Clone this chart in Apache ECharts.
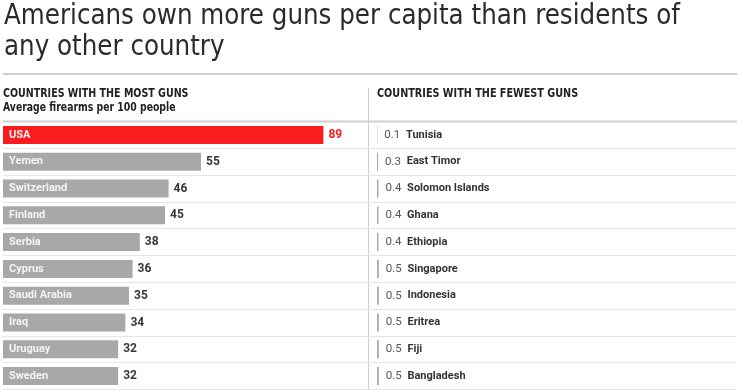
<!DOCTYPE html>
<html>
<head>
<meta charset="utf-8">
<script src="https://cdn.jsdelivr.net/npm/echarts@6/dist/echarts.min.js"></script>
<style>
html,body{margin:0;padding:0;background:#fff;}
#c{width:740px;height:390px;}
</style>
</head>
<body>
<div id="c"></div>
<script>
// ---- data ----
var mostCountries = ['USA','Yemen','Switzerland','Finland','Serbia','Cyprus','Saudi Arabia','Iraq','Uruguay','Sweden'];
var mostValues = [89,55,46,45,38,36,35,34,32,32];
var fewestCountries = ['Tunisia','East Timor','Solomon Islands','Ghana','Ethiopia','Singapore','Indonesia','Eritrea','Fiji','Bangladesh'];
var fewestValues = [0.1,0.3,0.4,0.4,0.4,0.5,0.5,0.5,0.5,0.5];
var titleText = 'Americans own more guns per capita than residents of\nany other country';
var leftHeader = 'COUNTRIES WITH THE MOST GUNS';
var leftSub = 'Average firearms per 100 people';
var rightHeader = 'COUNTRIES WITH THE FEWEST GUNS';

var FONT = "'DejaVu Sans Condensed',sans-serif";
var LFONT = "Roboto,sans-serif";
var RED = '#fa1c1e', GRAY = '#a8a8a8';

var chart = echarts.init(document.getElementById('c'), null, {renderer:'canvas'});

var mostData = mostValues.map(function(v,i){
  return {value:v, name:mostCountries[i], itemStyle:{color: i===0?RED:GRAY},
          label:{color: i===0?RED:'#383838'}};
});

var option = {
  animation:false,
  backgroundColor:'#fff',
  grid:[
    {left:3, width:734, top:121.5, height:268, containLabel:false},
    {left:377, width:360, top:121.5, height:268, containLabel:false}
  ],
  xAxis:[
    {gridIndex:0, type:'value', min:0, max:734/3.6, show:false},
    {gridIndex:1, type:'value', min:0, max:100, show:false}
  ],
  yAxis:[
    {gridIndex:0, type:'category', data:mostCountries, inverse:true,
     axisLine:{show:false}, axisTick:{show:false}, axisLabel:{show:false},
     splitLine:{show:true, lineStyle:{color:'#e6e6e6', width:1}}},
    {gridIndex:1, type:'category', data:fewestCountries, inverse:true, show:false}
  ],
  series:[
    {type:'bar', xAxisIndex:0, yAxisIndex:0, data:mostData, barWidth:18,
     label:{show:true, position:'right', distance:5, fontFamily:LFONT, fontSize:12, fontWeight:'bold'}},
    {type:'bar', xAxisIndex:0, yAxisIndex:0, data:mostValues, barWidth:18, barGap:'-100%',
     itemStyle:{color:'rgba(0,0,0,0)'}, silent:true, z:5,
     label:{show:true, position:'insideLeft', distance:6, color:'#f4f4f4', fontFamily:LFONT, fontSize:11, fontWeight:'bold',
            formatter:function(p){return mostCountries[p.dataIndex];}}},
    {type:'bar', xAxisIndex:1, yAxisIndex:1, data:fewestValues, barWidth:18,
     itemStyle:{color:'#a8a8a8'},
     label:{show:true, position:'right', distance:7, fontFamily:LFONT, fontSize:11.5,
            formatter:function(p){return '{v|'+fewestValues[p.dataIndex].toFixed(1)+'}  {n|'+fewestCountries[p.dataIndex]+'}';},
            rich:{v:{color:'#555', fontFamily:LFONT, fontSize:11.5},
                  n:{color:'#333', fontFamily:LFONT, fontSize:11, fontWeight:'bold'}}}}
  ],
  graphic:[
    {type:'text', x:4, y:1, scaleX:0.943, style:{text:titleText, fill:'#2b2b2b', font:'29px '+FONT, lineHeight:31, textVerticalAlign:'top'}},
    {type:'line', shape:{x1:3,y1:74,x2:737,y2:74}, style:{stroke:'#cfcfcf', lineWidth:2}},
    {type:'line', shape:{x1:368.5,y1:88,x2:368.5,y2:390}, style:{stroke:'#cfcfcf', lineWidth:1}},
    {type:'line', shape:{x1:3,y1:121.5,x2:737,y2:121.5}, style:{stroke:'#cfcfcf', lineWidth:2}, z:10},
    {type:'text', x:3, y:94, scaleX:0.92, style:{text:leftHeader, fill:'#222', font:'bold 11.5px '+FONT, textVerticalAlign:'middle'}},
    {type:'text', x:3, y:108.5, scaleX:0.9, style:{text:leftSub, fill:'#222', font:'bold 11.5px '+FONT, textVerticalAlign:'middle'}},
    {type:'text', x:377, y:94, scaleX:0.935, style:{text:rightHeader, fill:'#222', font:'bold 11.5px '+FONT, textVerticalAlign:'middle'}}
  ]
};
chart.setOption(option);
</script>
</body>
</html>
